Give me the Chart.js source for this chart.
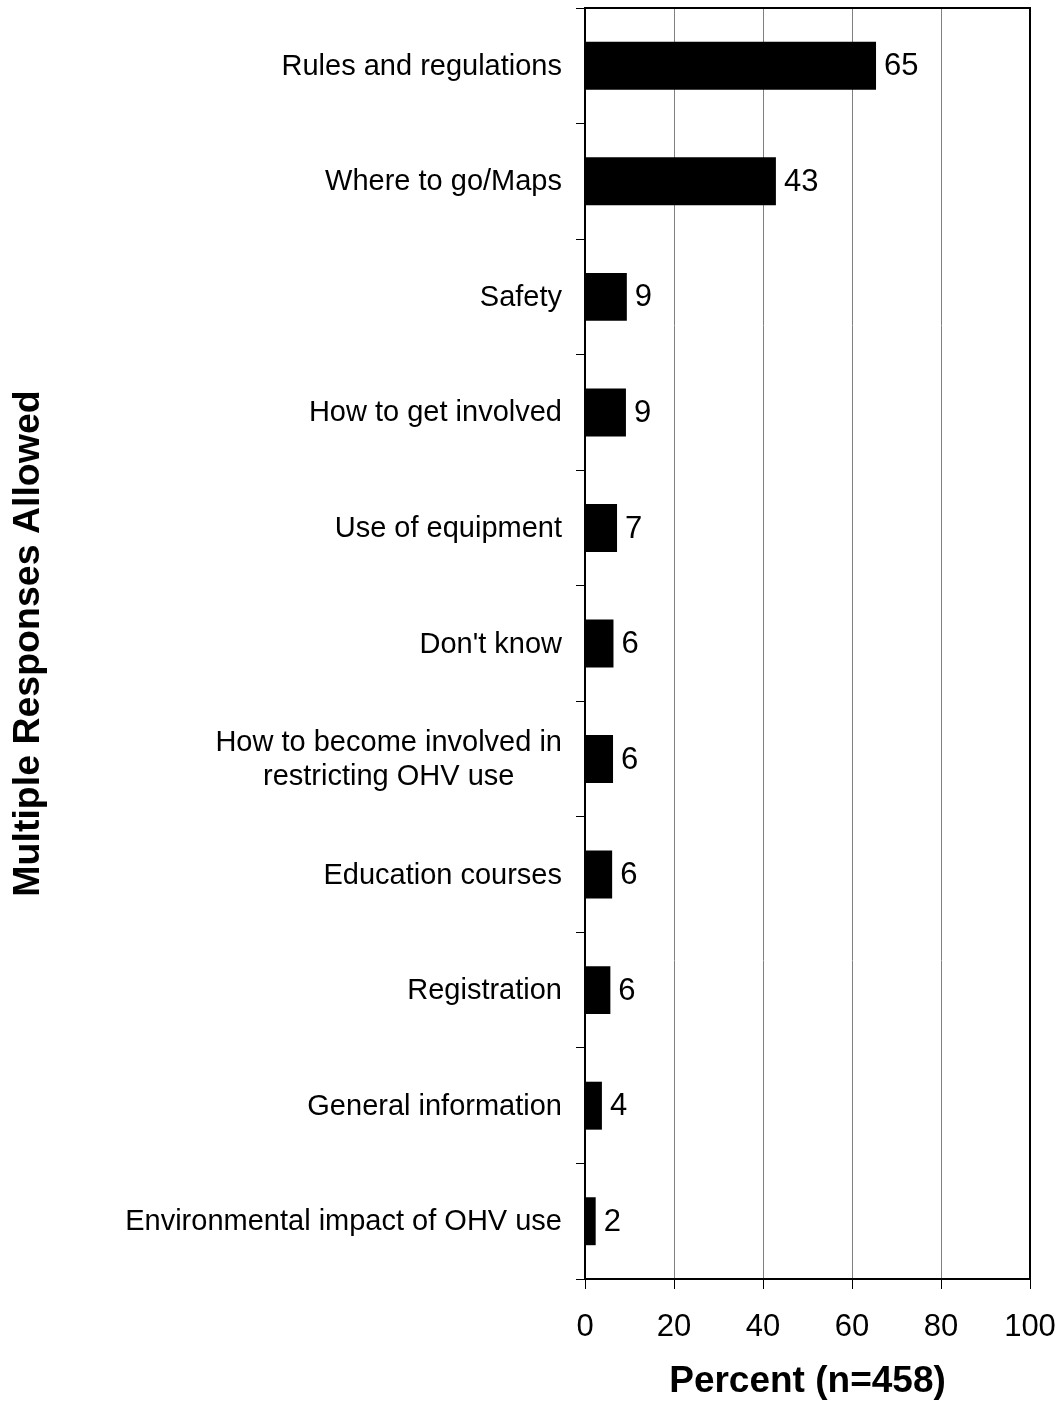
<!DOCTYPE html>
<html>
<head>
<meta charset="utf-8">
<script src="https://cdn.jsdelivr.net/npm/chart.js@4.4.1/dist/chart.umd.min.js"></script>
<style>
  html, body { margin: 0; padding: 0; background: #fff; }
  #wrap { width: 1061px; height: 1404px; }
</style>
</head>
<body>
<div id="wrap"><canvas id="infoChart"></canvas></div>
<script>
var categories = [
  "Rules and regulations",
  "Where to go/Maps",
  "Safety",
  "How to get involved",
  "Use of equipment",
  "Don't know",
  ["How to become involved in", "restricting OHV use"],
  "Education courses",
  "Registration",
  "General information",
  "Environmental impact of OHV use"
];
var percents = [65.4, 42.9, 9.4, 9.2, 7.2, 6.4, 6.3, 6.1, 5.7, 3.8, 2.4];
var xTicks = [0, 20, 40, 60, 80, 100];

var FONT = "'Liberation Sans', Arial, sans-serif";
Chart.defaults.font.family = FONT;
Chart.defaults.color = "#000";

// category labels, drawn so that wrapped labels are centred on their widest line
var catLabels = {
  id: "catLabels",
  afterDraw: function (chart) {
    var ctx = chart.ctx, y = chart.scales.y;
    var xRight = chart.chartArea.left - 23;
    ctx.save();
    ctx.font = "29px " + FONT;
    ctx.fillStyle = "#000";
    ctx.textBaseline = "middle";
    ctx.textAlign = "center";
    categories.forEach(function (c, i) {
      var lines = Array.isArray(c) ? c : [c];
      var w = Math.max.apply(null, lines.map(function (l) { return ctx.measureText(l).width; }));
      var cy = y.getPixelForTick(i) + 1;
      lines.forEach(function (l, k) {
        ctx.fillText(l, xRight - w / 2, cy + (k - (lines.length - 1) / 2) * 34);
      });
    });
    ctx.restore();
  }
};

// value labels at the end of the bars + frame round the plot
var barValues = {
  id: "barValues",
  afterDatasetsDraw: function (chart) {
    var ctx = chart.ctx, a = chart.chartArea;
    ctx.save();
    ctx.strokeStyle = "#000";
    ctx.lineWidth = 2;
    ctx.strokeRect(a.left, a.top, a.right - a.left, a.bottom - a.top);
    ctx.font = "31px " + FONT;
    ctx.fillStyle = "#000";
    ctx.textAlign = "left";
    ctx.textBaseline = "middle";
    chart.getDatasetMeta(0).data.forEach(function (bar, i) {
      ctx.fillText(Math.round(percents[i]), bar.x + 8, bar.y + 1);
    });
    ctx.restore();
  }
};

function noPad(s) {
  s.paddingLeft = 0; s.paddingRight = 0; s.paddingTop = 0; s.paddingBottom = 0;
}

new Chart(document.getElementById("infoChart"), {
  type: "bar",
  data: {
    labels: categories,
    datasets: [{
      data: percents,
      backgroundColor: "#000",
      borderWidth: 0,
      barPercentage: 0.415,
      categoryPercentage: 1
    }]
  },
  options: {
    indexAxis: "y",
    responsive: true,
    maintainAspectRatio: false,
    animation: false,
    layout: { padding: { top: 8, right: 31, left: 0, bottom: 0 } },
    plugins: { legend: { display: false }, tooltip: { enabled: false } },
    scales: {
      x: {
        min: 0,
        max: 100,
        afterBuildTicks: function (s) { s.ticks = xTicks.map(function (v) { return { value: v }; }); },
        afterFit: function (s) { s.height = 125; noPad(s); },
        grid: { color: "#808080", lineWidth: 1, tickColor: "#000", tickLength: 10 },
        border: { color: "#000", width: 2 },
        ticks: { font: { size: 31 }, color: "#000", padding: 20, maxRotation: 0 },
        title: {
          display: true,
          text: "Percent (n=458)",
          font: { size: 37, weight: "bold" },
          color: "#000",
          padding: { top: 0, bottom: 0 }
        }
      },
      y: {
        afterFit: function (s) { s.width = 585; noPad(s); },
        grid: { drawOnChartArea: false, color: "#000", tickLength: 9, offset: true },
        border: { color: "#000", width: 2 },
        ticks: { color: "rgba(0,0,0,0)", font: { size: 1 }, padding: 14 },
        title: {
          display: true,
          text: "Multiple Responses Allowed",
          font: { size: 37.5, weight: "bold" },
          color: "#000",
          padding: { top: 6, bottom: 0 }
        }
      }
    }
  },
  plugins: [catLabels, barValues]
});
</script>
</body>
</html>
